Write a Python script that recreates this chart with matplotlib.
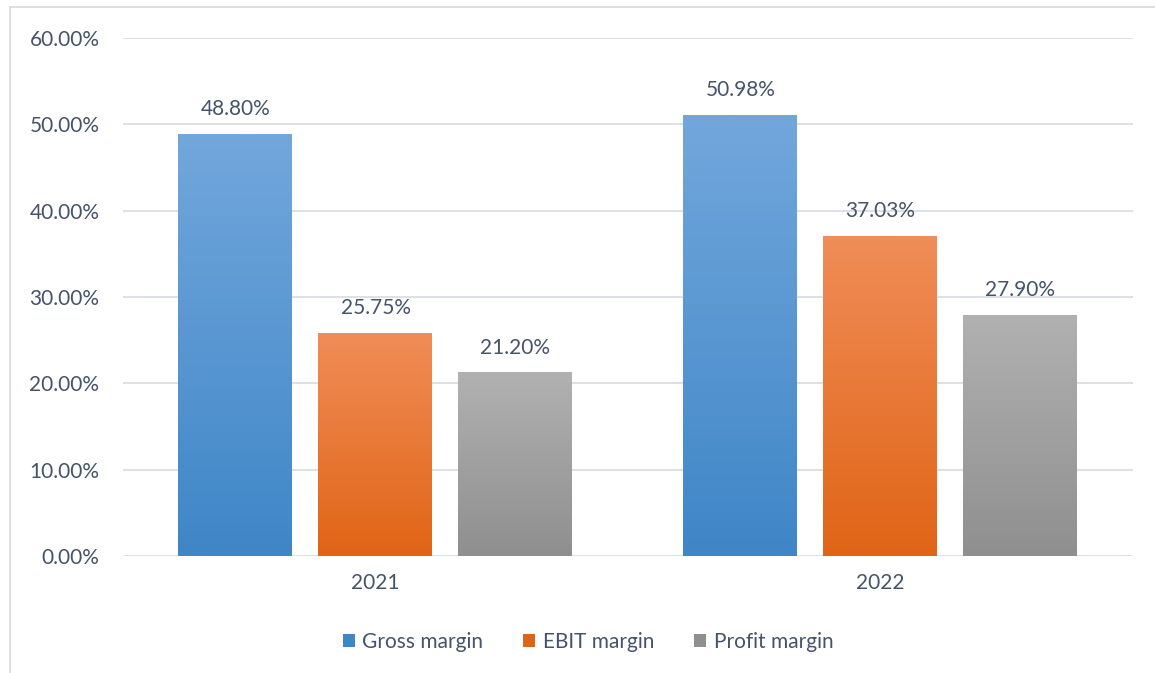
import matplotlib.pyplot as plt
import numpy as np
from matplotlib.colors import LinearSegmentedColormap
from matplotlib.patches import Rectangle

years = ["2021", "2022"]
series = ["Gross margin", "EBIT margin", "Profit margin"]
gross = [48.80, 50.98]
ebit = [25.75, 37.03]
profit = [21.20, 27.90]

# gradient (top, bottom) per series
grads = [("#72a7dc", "#3f86c7"), ("#f08d58", "#e06416"), ("#b1b1b1", "#8f8f8f")]
text_col = "#44546a"
fs = 15

plt.rcParams["font.family"] = ["Lato", "DejaVu Sans"]

fig = plt.figure(figsize=(11.55, 6.73), dpi=100)
ax = fig.add_axes([0.1065, 0.1738, 0.8745, 0.7697])

x = np.arange(len(years))
width = 0.224
step = 0.277
grad = np.linspace(0, 1, 256).reshape(-1, 1)
for i, (vals, (ctop, cbot)) in enumerate(zip([gross, ebit, profit], grads)):
    cmap = LinearSegmentedColormap.from_list(f"g{i}", [cbot, ctop])
    for xi, v in zip(x, vals):
        left = xi + (i - 1) * step - width / 2
        ax.imshow(grad, cmap=cmap, aspect="auto", origin="lower",
                  extent=[left - 0.002, left + width - 0.002, 0, v], zorder=2)
        ax.text(left + width / 2, v + 2.95, f"{v:.2f}%", ha="center", va="center",
                fontsize=fs, color=text_col, zorder=3)

ax.set_xlim(-0.5, 1.5)
ax.set_ylim(0, 60)
ax.set_yticks(np.arange(0, 61, 10))
ax.set_yticklabels([f"{t:.2f}%" for t in np.arange(0, 61, 10)])
ax.set_xticks(x)
ax.set_xticklabels(years)
ax.tick_params(length=0, labelsize=fs, labelcolor=text_col)
ax.tick_params(axis="y", pad=17)
ax.tick_params(axis="x", pad=12)
ax.grid(True, axis="y", color="#d9dee5", linewidth=1.3, zorder=0)
ax.set_axisbelow(True)
for s in ax.spines.values():
    s.set_visible(False)

handles = [Rectangle((0, 0), 1, 1, facecolor=c[1]) for c in grads]
fig.legend(handles, series, loc="center", bbox_to_anchor=(0.509, 0.046), ncol=3,
           frameon=False, fontsize=fs, labelcolor=text_col, handlelength=0.6,
           handleheight=0.6, handletextpad=0.35, columnspacing=1.9)

# outer chart border (left and top visible)
fig.add_artist(plt.Line2D([0.0087, 0.0087], [0, 0.9896], transform=fig.transFigure,
                          color="#d9d9d9", linewidth=1.2))
fig.add_artist(plt.Line2D([0.0087, 1.0], [0.9896, 0.9896], transform=fig.transFigure,
                          color="#d9d9d9", linewidth=1.2))

fig.savefig("out.png", dpi=100)
